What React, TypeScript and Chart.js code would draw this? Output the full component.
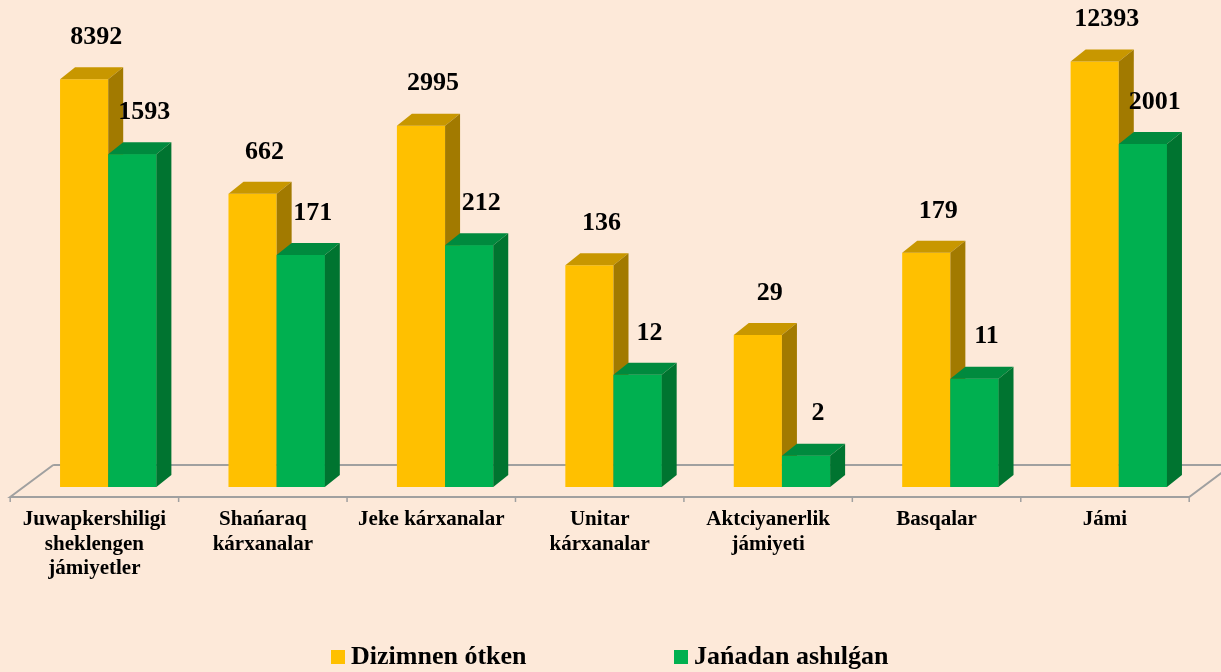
import React, { useEffect, useRef } from 'react';
import { Chart, registerables } from 'chart.js';

Chart.register(...registerables);

// ---- data ----
const categories: string[][] = [
  ['Juwapkershiligi', 'sheklengen', 'jámiyetler'],
  ['Shańaraq', 'kárxanalar'],
  ['Jeke kárxanalar'],
  ['Unitar', 'kárxanalar'],
  ['Aktciyanerlik', 'jámiyeti'],
  ['Basqalar'],
  ['Jámi'],
];
const seriesNames = ['Dizimnen ótken', 'Jańadan ashılǵan'];
const registeredValues = [8392, 662, 2995, 136, 29, 179, 12393];
const newlyOpenedValues = [1593, 171, 212, 12, 2, 11, 2001];

// ---- styles ----
const BG = '#FDE9D9';
const FONT = "'Liberation Serif', 'Times New Roman', serif";
const FACE = [
  { front: '#FFC000', top: '#C89700', side: '#A27A00' },
  { front: '#00B050', top: '#008A3E', side: '#007430' },
];
const DEPTH_DX = 15;
const DEPTH_DY = -12;
const FLOOR_FRONT_DX = -13.8;
const FLOOR_FRONT_DY = 10;
const FLOOR_BACK_DX = 43;
const FLOOR_BACK_DY = -32;
const FLOOR_COLOR = '#A0A0A0';

function drawFaces(ctx: CanvasRenderingContext2D, el: any, face: any, withFront: boolean) {
  const p = el.getProps(['x', 'y', 'base', 'width'], true);
  const l = p.x - p.width / 2;
  const r = p.x + p.width / 2;
  const t = Math.min(p.y, p.base);
  const b = Math.max(p.y, p.base);
  if (withFront) {
    ctx.fillStyle = face.front;
    ctx.fillRect(l, t, r - l, b - t);
  }
  ctx.fillStyle = face.top;
  ctx.beginPath();
  ctx.moveTo(l, t);
  ctx.lineTo(l + DEPTH_DX, t + DEPTH_DY);
  ctx.lineTo(r + DEPTH_DX, t + DEPTH_DY);
  ctx.lineTo(r, t);
  ctx.closePath();
  ctx.fill();
  ctx.fillStyle = face.side;
  ctx.beginPath();
  ctx.moveTo(r, t);
  ctx.lineTo(r + DEPTH_DX, t + DEPTH_DY);
  ctx.lineTo(r + DEPTH_DX, b + DEPTH_DY);
  ctx.lineTo(r, b);
  ctx.closePath();
  ctx.fill();
}

const depthPlugin = {
  id: 'depth3d',
  beforeDatasetsDraw(chart: any) {
    const { ctx, chartArea } = chart;
    const xs = chart.scales.x;
    const ys = chart.scales.y;
    const base = ys.getPixelForValue(ys.min);
    const fy = base + FLOOR_FRONT_DY;
    const fl = chartArea.left + FLOOR_FRONT_DX;
    const fr = chartArea.right + FLOOR_FRONT_DX;
    ctx.save();
    ctx.strokeStyle = FLOOR_COLOR;
    ctx.lineWidth = 2;
    ctx.beginPath();
    ctx.moveTo(fl + FLOOR_BACK_DX, fy + FLOOR_BACK_DY);
    ctx.lineTo(fl, fy);
    ctx.lineTo(fr, fy);
    ctx.lineTo(fr + FLOOR_BACK_DX, fy + FLOOR_BACK_DY);
    ctx.lineTo(fl + FLOOR_BACK_DX, fy + FLOOR_BACK_DY);
    ctx.stroke();
    const n = xs.ticks.length;
    const step = n > 1 ? xs.getPixelForTick(1) - xs.getPixelForTick(0) : chartArea.width;
    ctx.lineWidth = 1.5;
    ctx.beginPath();
    for (let i = 0; i <= n; i++) {
      const px = xs.getPixelForTick(0) - step / 2 + i * step + FLOOR_FRONT_DX;
      ctx.moveTo(px, fy);
      ctx.lineTo(px, fy + 5);
    }
    ctx.stroke();
    ctx.restore();
  },
  afterDatasetsDraw(chart: any) {
    const { ctx } = chart;
    ctx.save();
    const m0 = chart.getDatasetMeta(0);
    const m1 = chart.getDatasetMeta(1);
    m0.data.forEach((el: any) => drawFaces(ctx, el, FACE[0], false));
    m1.data.forEach((el: any) => drawFaces(ctx, el, FACE[1], true));

    ctx.font = `bold 26px ${FONT}`;
    ctx.fillStyle = '#000';
    ctx.textAlign = 'center';
    ctx.textBaseline = 'middle';
    chart.data.datasets.forEach((ds: any, di: number) => {
      const meta = chart.getDatasetMeta(di);
      meta.data.forEach((el: any, i: number) => {
        const p = el.getProps(['x', 'y'], true);
        ctx.fillText(String(ds.data[i]), p.x + 12, p.y - 42);
      });
    });
    ctx.restore();
  },
};

export default function App() {
  const ref = useRef<HTMLCanvasElement | null>(null);

  useEffect(() => {
    if (!ref.current) return;
    const chart = new Chart(ref.current, {
      type: 'bar',
      data: {
        labels: categories,
        datasets: [
          {
            label: seriesNames[0],
            data: registeredValues,
            backgroundColor: FACE[0].front,
            borderWidth: 0,
          },
          {
            label: seriesNames[1],
            data: newlyOpenedValues,
            backgroundColor: FACE[1].front,
            borderWidth: 0,
          },
        ],
      },
      options: {
        animation: false,
        responsive: false,
        layout: { padding: { top: 40, left: 24, right: 18, bottom: 0 } },
        datasets: {
          bar: { categoryPercentage: 0.572, barPercentage: 1 },
        },
        scales: {
          x: {
            grid: { display: false, drawTicks: false },
            border: { display: false },
            ticks: {
              color: '#000',
              font: { family: FONT, size: 21, weight: 'bold', lineHeight: 1.15 },
              padding: 21,
              labelOffset: FLOOR_FRONT_DX,
              maxRotation: 0,
              autoSkip: false,
            },
            afterFit: (s: any) => {
              s.height = 185;
            },
          },
          y: {
            type: 'logarithmic',
            min: 1,
            max: 20000,
            display: false,
          },
        },
        plugins: {
          legend: { display: false },
          tooltip: { enabled: false },
        },
      },
      plugins: [depthPlugin],
    } as any);
    return () => chart.destroy();
  }, []);

  const legendText: React.CSSProperties = {
    position: 'absolute',
    top: 643,
    fontFamily: FONT,
    fontWeight: 'bold',
    fontSize: 26,
    lineHeight: '26px',
    color: '#000',
    whiteSpace: 'nowrap',
  };
  const box: React.CSSProperties = { position: 'absolute', top: 650, width: 14, height: 14 };

  return (
    <div
      style={{
        position: 'fixed',
        left: 0,
        top: 0,
        width: 1221,
        height: 672,
        background: BG,
        overflow: 'hidden',
      }}
    >
      <canvas ref={ref} width={1221} height={672} style={{ display: 'block', width: 1221, height: 672 }} />
      <div style={{ ...box, left: 331, background: FACE[0].front }} />
      <div style={{ ...legendText, left: 351 }}>{seriesNames[0]}</div>
      <div style={{ ...box, left: 674, background: FACE[1].front }} />
      <div style={{ ...legendText, left: 694 }}>{seriesNames[1]}</div>
    </div>
  );
}
